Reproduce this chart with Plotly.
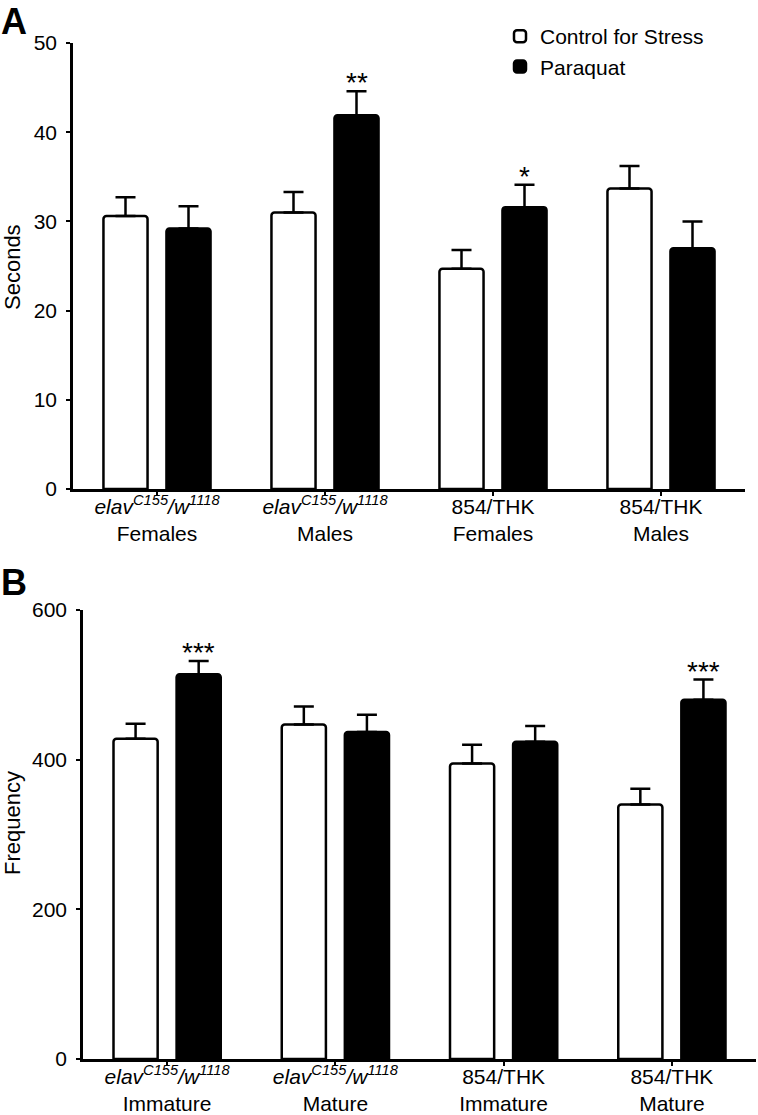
import plotly.graph_objects as go

# ---------------- data ----------------
groups_a = ["<i>elav<sup>C155</sup>/w<sup>1118</sup></i><br>Females",
            "<i>elav<sup>C155</sup>/w<sup>1118</sup></i><br>Males",
            "854/THK<br>Females",
            "854/THK<br>Males"]
control_a = [30.6, 31.0, 24.7, 33.7]
control_a_err = [2.1, 2.3, 2.1, 2.5]
paraquat_a = [29.2, 41.9, 31.6, 27.0]
paraquat_a_err = [2.5, 2.7, 2.5, 3.0]
signif_a = ["", "**", "*", ""]

groups_b = ["<i>elav<sup>C155</sup>/w<sup>1118</sup></i><br>Immature",
            "<i>elav<sup>C155</sup>/w<sup>1118</sup></i><br>Mature",
            "854/THK<br>Immature",
            "854/THK<br>Mature"]
control_b = [428, 447, 395, 340]
control_b_err = [20, 24, 25, 21]
paraquat_b = [514, 437, 424, 480]
paraquat_b_err = [18, 23, 21, 27]
signif_b = ["***", "", "", "***"]

series_names = ["Control for Stress", "Paraquat"]
yticks_a = [0, 10, 20, 30, 40, 50]
yticks_b = [0, 200, 400, 600]

FONT = "Liberation Sans, Arial, sans-serif"
W, H = 758, 1115

# panel geometry in page pixels
AX0, AX1, AY0, AY1 = 73, 745, 43, 489      # panel A plot box (left, right, top, bottom)
BX0, BX1, BY0, BY1 = 83, 756, 610, 1059    # panel B plot box

fig = go.Figure()
idx = [0, 1, 2, 3]


def add_panel(ctrl, ctrl_err, para, para_err, xa, ya, show_legend):
    fig.add_trace(go.Bar(
        x=idx, y=ctrl, name=series_names[0], xaxis=xa, yaxis=ya,
        marker=dict(color="white", line=dict(color="black", width=2.5), cornerradius=3),
        error_y=dict(type="data", array=ctrl_err, arrayminus=[0] * 4, symmetric=False,
                     color="black", thickness=2.5, width=10),
        showlegend=show_legend, legendgroup="c"))
    fig.add_trace(go.Bar(
        x=idx, y=para, name=series_names[1], xaxis=xa, yaxis=ya,
        marker=dict(color="black", line=dict(color="black", width=2.5), cornerradius=3),
        error_y=dict(type="data", array=para_err, arrayminus=[0] * 4, symmetric=False,
                     color="black", thickness=2.5, width=10),
        showlegend=show_legend, legendgroup="p"))


add_panel(control_a, control_a_err, paraquat_a, paraquat_a_err, "x", "y", True)
add_panel(control_b, control_b_err, paraquat_b, paraquat_b_err, "x2", "y2", False)

# significance stars
off = 0.1875
for i, s in enumerate(signif_a):
    if s:
        fig.add_annotation(x=i + off, y=paraquat_a[i] + paraquat_a_err[i], xref="x", yref="y",
                           text=s, showarrow=False, yanchor="bottom", yshift=-9,
                           font=dict(family=FONT, size=28, color="black"))
for i, s in enumerate(signif_b):
    if s:
        fig.add_annotation(x=i + off, y=paraquat_b[i] + paraquat_b_err[i], xref="x2", yref="y2",
                           text=s, showarrow=False, yanchor="bottom", yshift=-9,
                           font=dict(family=FONT, size=28, color="black"))


def dom(px, py, x0, x1, y0, y1):
    return (px - x0) / (x1 - x0), (y1 - py) / (y1 - y0)


# panel letters and y titles (positioned relative to axis domains so they don't push margins)
ax_, ay_ = dom(0, 0, AX0, AX1, AY0, AY1)
fig.add_annotation(x=ax_, y=ay_, xref="x domain", yref="y domain", text="<b>A</b>",
                   showarrow=False, xanchor="left", yanchor="top", borderpad=0,
                   font=dict(family=FONT, size=36, color="black"))
bx_, by_ = dom(0, 561, BX0, BX1, BY0, BY1)
fig.add_annotation(x=bx_, y=by_, xref="x2 domain", yref="y2 domain", text="<b>B</b>",
                   showarrow=False, xanchor="left", yanchor="top", borderpad=0,
                   font=dict(family=FONT, size=36, color="black"))
sx, sy = dom(12, 267, AX0, AX1, AY0, AY1)
fig.add_annotation(x=sx, y=sy, xref="x domain", yref="y domain", text="Seconds",
                   textangle=-90, showarrow=False, xanchor="center", yanchor="middle",
                   font=dict(family=FONT, size=22, color="black"))
fx, fy = dom(12, 823, BX0, BX1, BY0, BY1)
fig.add_annotation(x=fx, y=fy, xref="x2 domain", yref="y2 domain", text="Frequency",
                   textangle=-90, showarrow=False, xanchor="center", yanchor="middle",
                   font=dict(family=FONT, size=22, color="black"))

axis_common = dict(showline=True, linecolor="black", linewidth=2.5, ticks="outside",
                   tickcolor="black", tickwidth=2, showgrid=False, zeroline=False,
                   automargin=False,
                   tickfont=dict(family=FONT, size=21, color="black"))

fig.update_layout(
    width=W, height=H, margin=dict(l=0, r=0, t=0, b=0, autoexpand=False),
    paper_bgcolor="white", plot_bgcolor="white",
    barmode="group", bargap=0.25, bargroupgap=0.3,
    font=dict(family=FONT, color="black"),
    legend=dict(x=500 / W, y=1 - 16 / H, xanchor="left", yanchor="top",
                font=dict(family=FONT, size=21, color="black"), bgcolor="rgba(0,0,0,0)",
                traceorder="normal"),
    xaxis=dict(domain=[AX0 / W, AX1 / W], anchor="y", range=[-0.5, 3.5],
               tickmode="array", tickvals=idx, ticktext=groups_a, ticklen=4,
               ticklabelstandoff=-7, **axis_common),
    yaxis=dict(domain=[1 - AY1 / H, 1 - AY0 / H], anchor="x", range=[0, 50],
               tickmode="array", tickvals=yticks_a, ticklen=4, ticklabelstandoff=5, **axis_common),
    xaxis2=dict(domain=[BX0 / W, BX1 / W], anchor="y2", range=[-0.5, 3.5],
                tickmode="array", tickvals=idx, ticktext=groups_b, ticklen=4,
                ticklabelstandoff=-7, **axis_common),
    yaxis2=dict(domain=[1 - BY1 / H, 1 - BY0 / H], anchor="x2", range=[0, 600],
                tickmode="array", tickvals=yticks_b, ticklen=4, ticklabelstandoff=5, **axis_common),
)

fig.write_html("out.html", config={"displayModeBar": False},
               post_script="document.body.style.margin='0';document.body.style.overflow='hidden';")
